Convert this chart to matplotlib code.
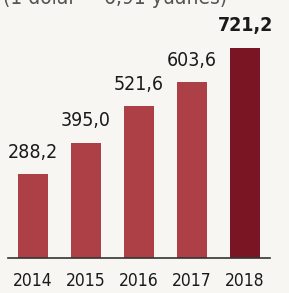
import matplotlib.pyplot as plt

years = ["2014", "2015", "2016", "2017", "2018"]
values = [288.2, 395.0, 521.6, 603.6, 721.2]
labels = ["288,2", "395,0", "521,6", "603,6", "721,2"]

plt.rcParams["font.family"] = ["DejaVu Sans"]
plt.rcParams["font.stretch"] = "condensed"

bg = "#f8f6f2"
fig = plt.figure(figsize=(2.89, 2.93), dpi=100, facecolor=bg)
ax = fig.add_axes([0, 35 / 293, 1, 258 / 293])
ax.set_facecolor(bg)

colors = ["#ad4046"] * 4 + ["#7a1623"]
x = list(range(len(years)))
ax.bar(x, values, width=0.57, color=colors)

for i, (v, lab) in enumerate(zip(values, labels)):
    bold = i == len(values) - 1
    ax.annotate(lab, (i, v), xytext=(0, 9), textcoords="offset points",
                ha="center", va="bottom", fontsize=14, color="#1a1a1a",
                fontweight="bold" if bold else "normal")

ax.set_xlim(-0.623, 4.83)
ax.set_ylim(0, 886)
ax.axhline(0, xmin=0.028, xmax=0.934, color="#333333", lw=1.2, clip_on=False)

ax.set_xticks(x)
ax.set_xticklabels(years, fontsize=12.5, color="#1a1a1a")
ax.tick_params(axis="x", length=0, pad=10)
ax.set_yticks([])
for s in ax.spines.values():
    s.set_visible(False)

# subtitle, cut off at the top edge like the scan
fig.text(0.01, 1 - 3.5 / 293, "(1 dólar = 6,91 yuanes)", fontsize=15,
         color="#555555", ha="left", va="baseline")

fig.savefig("out.png", dpi=100, facecolor=bg)
